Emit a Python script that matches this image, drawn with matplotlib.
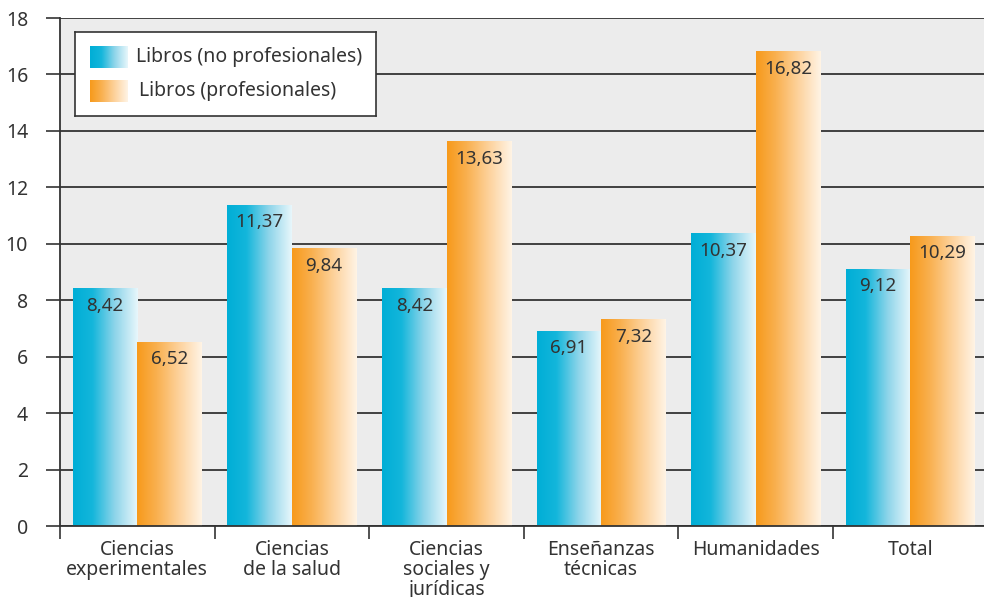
import numpy as np
import matplotlib.pyplot as plt
from matplotlib.colors import LinearSegmentedColormap

plt.rcParams['font.family'] = ['Noto Sans', 'DejaVu Sans']

categories = ["Ciencias\nexperimentales", "Ciencias\nde la salud",
              "Ciencias\nsociales y\njurídicas", "Enseñanzas\ntécnicas",
              "Humanidades", "Total"]
no_prof = [8.42, 11.37, 8.42, 6.91, 10.37, 9.12]
prof = [6.52, 9.84, 13.63, 7.32, 16.82, 10.29]
series_names = ["Libros (no profesionales)", "Libros (profesionales)"]
yticks = list(range(0, 19, 2))

TXT = "#333333"
blue_cmap = LinearSegmentedColormap.from_list(
    "b", [(0, "#00aed6"), (0.3, "#14b6db"), (0.65, "#8fd5ea"), (1, "#e6f6fb")])
orange_cmap = LinearSegmentedColormap.from_list(
    "o", [(0, "#f79a1c"), (0.3, "#f9b04f"), (0.65, "#fdd29c"), (1, "#fff3e4")])
grad = np.linspace(0, 1, 64).reshape(1, -1)

fig = plt.figure(figsize=(9.84, 5.97), dpi=100)
ax = fig.add_axes([60 / 984, 71 / 597, 927.6 / 984, 508 / 597])
ax.set_facecolor("#ececec")

x = np.arange(len(categories))
w = 0.417
bars_b = ax.bar(x - w / 2, no_prof, w, color="none", zorder=2)
bars_o = ax.bar(x + w / 2, prof, w, color="none", zorder=2)


def fill_gradient(bars, cmap, values):
    for p, v in zip(bars, values):
        x0, y0 = p.get_x(), p.get_y()
        im = ax.imshow(grad, cmap=cmap, aspect="auto", zorder=2,
                       extent=[x0, x0 + p.get_width(), y0, y0 + p.get_height()])
        im.set_clip_path(p)
        ax.annotate(f"{v:.2f}".replace(".", ","), (x0 + p.get_width() / 2, v),
                    xytext=(0, -6), textcoords="offset points",
                    ha="center", va="top", fontsize=13.5, color=TXT, zorder=3)


fill_gradient(bars_b, blue_cmap, no_prof)
fill_gradient(bars_o, orange_cmap, prof)

ax.set_xlim(-0.5, len(categories) - 0.5)
ax.set_ylim(0, 18)
ax.set_yticks(yticks)
ax.set_yticklabels([str(t) for t in yticks], fontsize=14, color=TXT)
ax.tick_params(axis="y", length=10, width=1.2, color=TXT, pad=13)
ax.yaxis.grid(True, color=TXT, linewidth=1.3, zorder=1)
ax.set_axisbelow(True)

ax.set_xticks(x - 0.5)
ax.set_xticklabels([])
ax.set_xticks(x, minor=True)
ax.set_xticklabels(categories, minor=True, fontsize=14, color=TXT,
                   linespacing=1.0)
ax.tick_params(axis="x", which="major", length=9, width=1.2, color=TXT)
ax.tick_params(axis="x", which="minor", length=0, pad=10)

for s in ["top", "right"]:
    ax.spines[s].set_visible(False)
for s in ["left", "bottom"]:
    ax.spines[s].set_color(TXT)
    ax.spines[s].set_linewidth(1.3)

# legend box
lg = fig.add_axes([75 / 984, (597 - 116) / 597, 301 / 984, 84 / 597])
lg.set_xticks([])
lg.set_yticks([])
for sp in lg.spines.values():
    sp.set_color(TXT)
    sp.set_linewidth(1.2)
for i, (name, cmap) in enumerate(zip(series_names, [blue_cmap, orange_cmap])):
    yc = 25 + i * 34
    lg.imshow(grad, cmap=cmap, aspect="auto",
              extent=[15, 53, yc + 11, yc - 11])
    lg.text(61 + i * 3, yc, name, fontsize=14, color=TXT, va="center")
lg.set_xlim(0, 301)
lg.set_ylim(84, 0)

fig.savefig("out.png", dpi=100)
